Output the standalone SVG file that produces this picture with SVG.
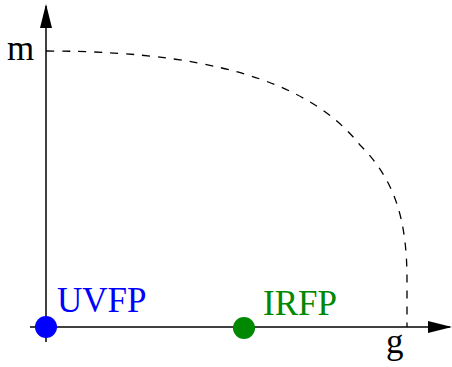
<svg xmlns="http://www.w3.org/2000/svg" width="452" height="367" viewBox="0 0 452 367">
<style>
.axis{stroke:#404040;stroke-width:2;fill:none}
.dash{stroke:#000;stroke-width:1.3;fill:none;stroke-dasharray:8,8}
.lbl{font-family:"Liberation Serif",serif;font-size:35px}
</style>
<defs>
<marker id="ah" markerWidth="24" markerHeight="12" refX="22" refY="6" orient="auto" markerUnits="userSpaceOnUse">
<path d="M0,0 L24,6 L0,12 Z" fill="#000"/>
</marker>
</defs>
<g id="connectors">
<path class="axis" d="M46,342 V6" marker-end="url(#ah)"/>
<path class="axis" d="M30,327 H450" marker-end="url(#ah)"/>
<path class="dash" d="M46,51 C240,51 320,95 360,145 C395,180 407,220 407,280 L407,327"/>
</g>
<g id="m"><text class="lbl" x="7" y="60">m</text></g>
<g id="g"><text class="lbl" x="386" y="353">g</text></g>
<g id="UVFP">
<circle cx="46" cy="327" r="11" fill="#0000ff"/>
<text class="lbl" x="57" y="312" fill="#0000ff">UVFP</text>
</g>
<g id="IRFP">
<circle cx="244" cy="328" r="11" fill="#008800"/>
<text class="lbl" x="263" y="315" fill="#008800">IRFP</text>
</g>
</svg>
